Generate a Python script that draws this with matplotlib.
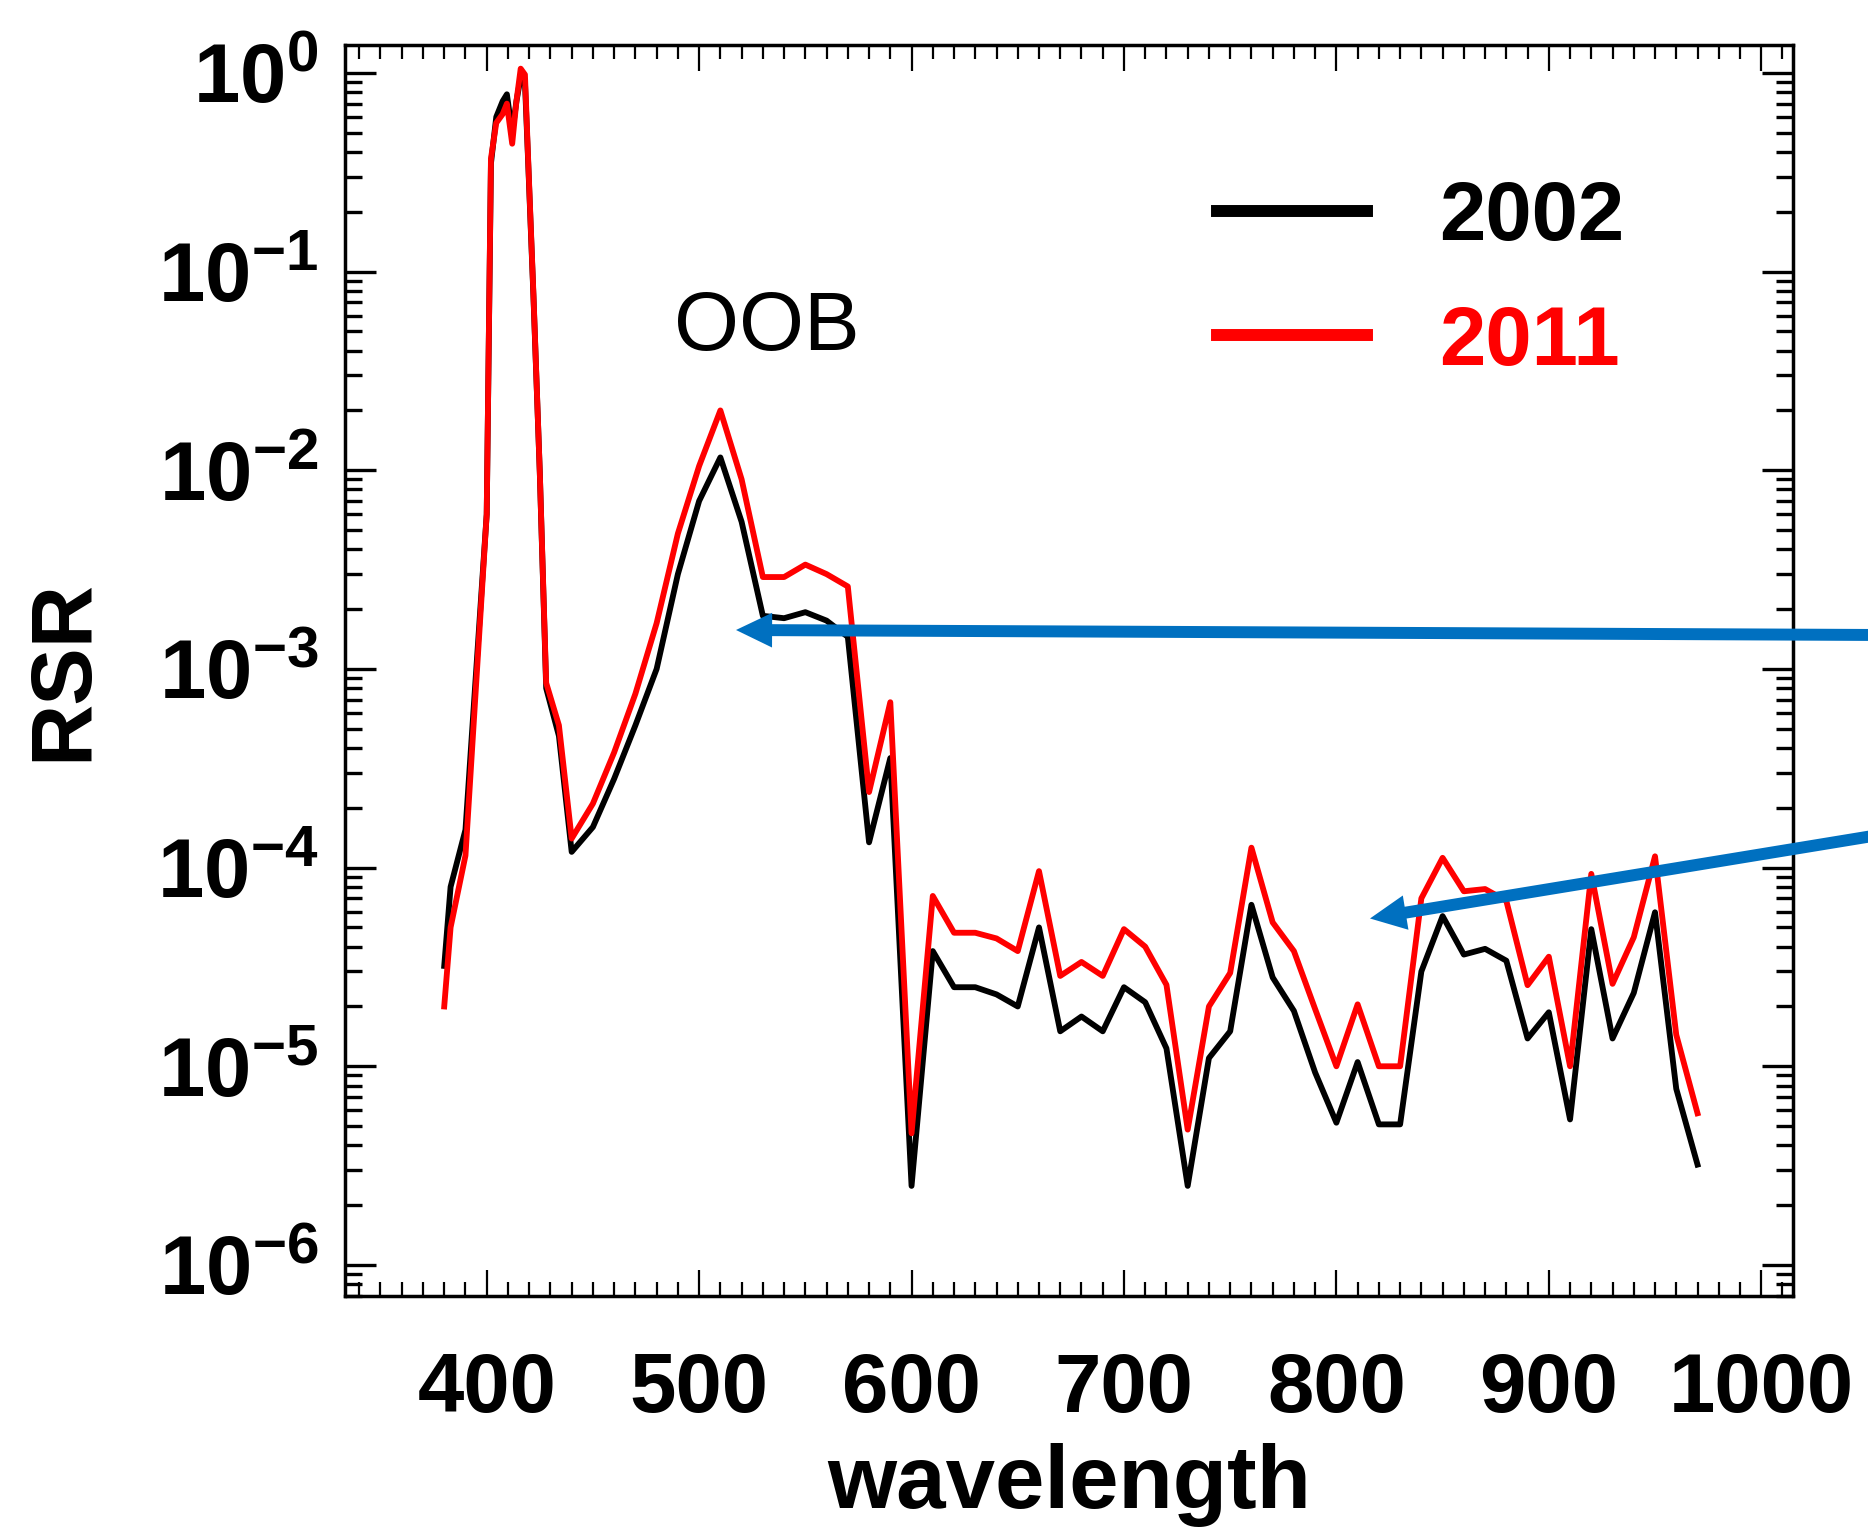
#RSR comparison plot, 2002 vs 2011
#log scale response with OOB region marked

import numpy as np
import matplotlib
matplotlib.use('Agg')
import matplotlib.pyplot as plt
from matplotlib.ticker import MultipleLocator, LogLocator, NullFormatter, FuncFormatter
from matplotlib.patches import FancyArrowPatch

plt.rcParams['font.family'] = ['Liberation Sans', 'DejaVu Sans']
plt.rcParams['mathtext.fontset'] = 'custom'
plt.rcParams['mathtext.rm'] = 'Liberation Sans:bold'
plt.rcParams['mathtext.it'] = 'Liberation Sans:bold'
plt.rcParams['mathtext.bf'] = 'Liberation Sans:bold'

#wavelength grid (nm)
wl = [380, 383, 390, 400, 402, 404.5, 407.5, 409.5, 412, 414, 416, 418, 419.5,
      422, 425, 428, 434, 440, 450, 460, 470, 480, 490, 500, 510, 520, 530,
      540, 550, 560, 570, 580, 590, 600, 610, 620, 630, 640, 650, 660, 670,
      680, 690, 700, 710, 720, 730, 740, 750, 760, 770, 780, 790, 800, 810,
      820, 830, 840, 850, 860, 870, 880, 890, 900, 910, 920, 930, 940, 950,
      960, 970]

#relative spectral response, 2002
rsr_2002 = [3.2e-5, 8e-5, 1.55e-4, 6e-3, 0.35, 0.6, 0.72, 0.78, 0.5, 0.72,
            0.95, 0.9, 0.36, 0.075, 9.7e-3, 8e-4, 4.6e-4, 1.2e-4, 1.6e-4,
            2.8e-4, 5.2e-4, 1.0e-3, 3.0e-3, 7.0e-3, 1.16e-2, 5.5e-3, 1.85e-3,
            1.8e-3, 1.93e-3, 1.75e-3, 1.45e-3, 1.34e-4, 3.56e-4, 2.5e-6,
            3.8e-5, 2.5e-5, 2.5e-5, 2.3e-5, 2.0e-5, 5.0e-5, 1.5e-5, 1.78e-5,
            1.5e-5, 2.5e-5, 2.1e-5, 1.23e-5, 2.5e-6, 1.1e-5, 1.5e-5, 6.5e-5,
            2.8e-5, 1.9e-5, 9.3e-6, 5.2e-6, 1.05e-5, 5.1e-6, 5.1e-6, 3.0e-5,
            5.7e-5, 3.65e-5, 3.9e-5, 3.4e-5, 1.38e-5, 1.87e-5, 5.4e-6, 4.9e-5,
            1.38e-5, 2.34e-5, 5.96e-5, 7.7e-6, 3.2e-6]

#relative spectral response, 2011
rsr_2011 = [2.0e-5, 5e-5, 1.15e-4, 6e-3, 0.37, 0.56, 0.62, 0.7, 0.44, 0.72,
            1.05, 0.98, 0.37, 0.077, 9.7e-3, 8.5e-4, 5.2e-4, 1.4e-4, 2.1e-4,
            3.8e-4, 7.5e-4, 1.7e-3, 4.8e-3, 1.05e-2, 2.0e-2, 9.0e-3, 2.9e-3,
            2.9e-3, 3.35e-3, 3.0e-3, 2.6e-3, 2.4e-4, 6.8e-4, 4.6e-6, 7.2e-5,
            4.7e-5, 4.7e-5, 4.4e-5, 3.8e-5, 9.6e-5, 2.85e-5, 3.35e-5, 2.85e-5,
            4.9e-5, 4.0e-5, 2.57e-5, 4.8e-6, 2.0e-5, 2.95e-5, 1.26e-4, 5.3e-5,
            3.8e-5, 1.94e-5, 1.0e-5, 2.05e-5, 1.0e-5, 1.0e-5, 7.0e-5, 1.12e-4,
            7.6e-5, 7.8e-5, 6.8e-5, 2.56e-5, 3.56e-5, 1.0e-5, 9.3e-5, 2.6e-5,
            4.46e-5, 1.14e-4, 1.44e-5, 5.8e-6]

years = ['2002', '2011']
colors = ['black', 'red']

fig = plt.figure(figsize=(18.68, 15.28), dpi=100)
ax = fig.add_axes([0.1847, 0.152, 0.7752, 0.8185])

ax.plot(wl, rsr_2002, color=colors[0], lw=4.2, label=years[0])
ax.plot(wl, rsr_2011, color=colors[1], lw=4.2, label=years[1])

ax.set_yscale('log')
ax.set_xlim(333.3, 1015)
ax.set_ylim(7.0e-7, 1.38)

#ticks
ax.xaxis.set_major_locator(MultipleLocator(100))
ax.xaxis.set_minor_locator(MultipleLocator(10))
ax.yaxis.set_major_locator(LogLocator(base=10, numticks=10))
ax.yaxis.set_minor_locator(LogLocator(base=10, subs=np.arange(2, 10), numticks=20))
ax.yaxis.set_minor_formatter(NullFormatter())
ax.yaxis.set_major_formatter(FuncFormatter(lambda v, p: r'$10^{%d}$' % round(np.log10(v))))

ax.tick_params(which='both', direction='in', top=True, right=True, labelsize=60)
ax.tick_params(axis='x', which='major', length=19, width=1.6, pad=40)
ax.tick_params(axis='x', which='minor', length=10, width=1.6)
ax.tick_params(axis='y', which='major', length=22, width=2.4, pad=19)
ax.tick_params(axis='y', which='minor', length=12.5, width=2.4)
for lab in ax.get_xticklabels():
    lab.set_fontweight('bold')

for s in ax.spines.values():
    s.set_linewidth(2.5)

#labels
ax.set_xlabel('wavelength', fontsize=64, fontweight='bold')
ax.xaxis.set_label_coords(0.5, -0.118)
ax.set_ylabel('RSR', fontsize=62, fontweight='bold')
ax.yaxis.set_label_coords(-0.166, 0.5)

ax.text(532, 0.052, 'OOB', fontsize=60, ha='center', va='center')

#legend
leg = ax.legend(loc='upper left', bbox_to_anchor=(0.6025, 0.893), frameon=False,
                handlelength=1.8, handletextpad=0.86,
                labelspacing=0.56, borderpad=0, borderaxespad=0,
                prop={'weight': 'bold', 'size': 60})
for line in leg.get_lines():
    line.set_linewidth(8.6)
for txt, c in zip(leg.get_texts(), colors):
    txt.set_color(c)

#blue arrows coming in from the right
arrow_style = 'simple,head_length=26,head_width=25,tail_width=8.6'
a1 = FancyArrowPatch((1.03, 0.5843), (0.394, 0.5877), transform=fig.transFigure,
                     arrowstyle=arrow_style, mutation_scale=1, color='#0070C0',
                     lw=0, shrinkA=0, shrinkB=0)
a2 = FancyArrowPatch((1.03, 0.4584), (0.7334, 0.3989), transform=fig.transFigure,
                     arrowstyle=arrow_style, mutation_scale=1, color='#0070C0',
                     lw=0, shrinkA=0, shrinkB=0)
fig.add_artist(a1)
fig.add_artist(a2)

plt.savefig('out.png', dpi=100)
